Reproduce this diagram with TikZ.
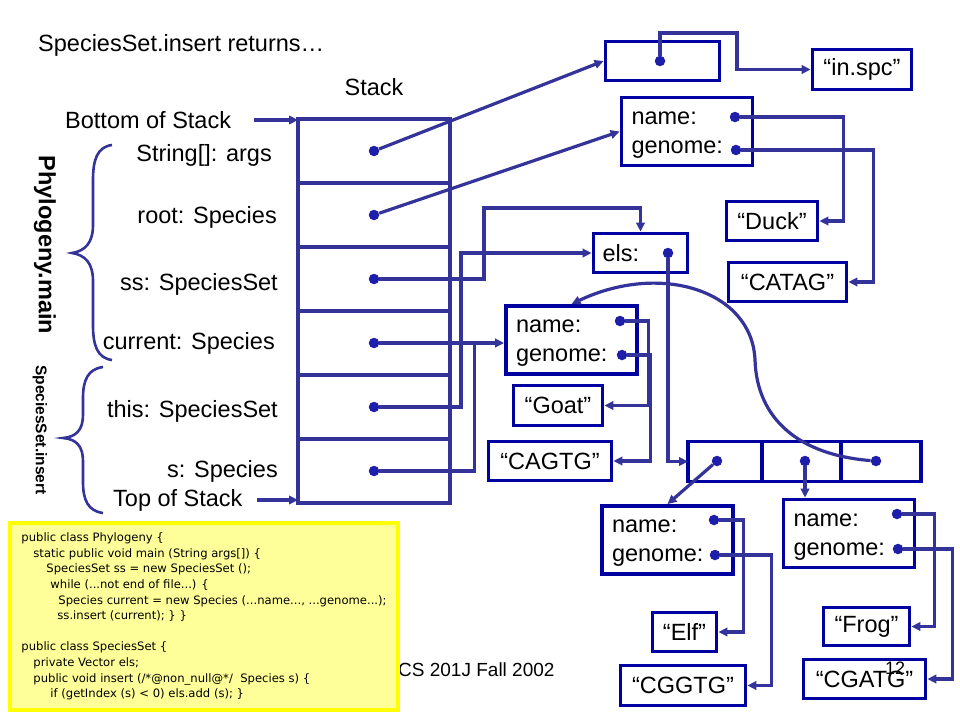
\documentclass[tikz,border=0pt]{standalone}
\usepackage{fontspec}
\setmainfont{Liberation Sans}
\newfontfamily\codefont{DejaVu Sans}
\usepackage{xcolor}
\usepackage{tikz}
\usetikzlibrary{arrows.meta, positioning}

\definecolor{boxblue}{RGB}{0,0,160}
\definecolor{wireblue}{RGB}{51,51,153}
\definecolor{dotblue}{RGB}{30,30,170}
\definecolor{codefill}{RGB}{255,255,153}
\definecolor{codeedge}{RGB}{255,255,0}

\begin{document}
\begin{tikzpicture}[
        x=1pt, y=-1pt,
        every node/.style={font=\fontsize{23.5}{29}\selectfont},
        obj/.style={draw=boxblue, line width=3.8pt, rectangle, inner sep=0pt},
        spbox/.style={obj, minimum width=131pt, minimum height=68pt, text width=111pt, align=left, inner xsep=10pt},
        cell/.style={draw=wireblue, line width=3.4pt, minimum width=152pt, minimum height=64pt, outer sep=0pt, inner sep=0pt},
        vcell/.style={obj, minimum height=40pt, outer sep=0pt},
        ptrdot/.style={circle, fill=dotblue, minimum size=10.5pt, inner sep=0pt},
        wire/.style={draw=wireblue, line width=3.2pt},
        ptr/.style={wire, -{Triangle[length=9pt, width=8.5pt]}},
        lbl/.style={inner sep=0pt},
        codebox/.style={draw=codeedge, fill=codefill, line width=4pt, minimum width=388pt, minimum height=187pt, align=left, font=\codefont\fontsize{11.6}{15.6}\selectfont}
    ]
    \useasboundingbox (0,0) rectangle (960,720);

    % Title and stack heading
    \node[lbl, anchor=west] (title) at (38,45) {SpeciesSet.insert returns…};
    \node[lbl] (stackhd) at (374,87) {Stack};

    % Stack frames
    \node[cell] (c1) at (374,151) {};
    \node[cell, below=0pt of c1] (c2) {};
    \node[cell, below=0pt of c2] (c3) {};
    \node[cell, below=0pt of c3] (c4) {};
    \node[cell, below=0pt of c4] (c5) {};
    \node[cell, below=0pt of c5] (c6) {};
    \node[ptrdot] (s1) at (c1) {};
    \node[ptrdot] (s2) at (c2) {};
    \node[ptrdot] (s3) at (c3) {};
    \node[ptrdot] (s4) at (c4) {};
    \node[ptrdot] (s5) at (c5) {};
    \node[ptrdot] (s6) at (c6) {};

    % Variable names
    \node[lbl, left=26pt of c1, yshift=-4pt] (args) {String[]: args};
    \node[lbl, left=21pt of c2, yshift=-2pt] (root) {root: Species};
    \node[lbl, left=20pt of c3, yshift=-5pt] (ss) {ss: SpeciesSet};
    \node[lbl, left=23pt of c4] (current) {current: Species};
    \node[lbl, left=20pt of c5, yshift=-4pt] (this) {this: SpeciesSet};
    \node[lbl, left=20pt of c6] (sarg) {s: Species};

    \node[lbl, anchor=west] (bos) at (65,120) {Bottom of Stack};
    \node[lbl, anchor=west] (tos) at (113,500) {Top of Stack};
    \draw[ptr] ([xshift=23pt]bos.east) -- (bos.east -| c1.west);
    \draw[ptr] ([xshift=14pt]tos.east) -- (tos.east -| c6.west);

    % Frame braces
    \draw[wire, line width=2.6pt] (112,145) .. controls (97,147) and (93,160) .. (93,180) -- (93,225)
        .. controls (93,243) and (85,251) .. (72,253) .. controls (85,255) and (93,263) .. (93,281)
        -- (93,325) .. controls (93,345) and (97,358) .. (112,360);
    \draw[wire, line width=2.6pt] (103,367) .. controls (88,369) and (83,380) .. (83,398) -- (83,415)
        .. controls (83,430) and (76,437) .. (63,438) .. controls (76,439) and (83,446) .. (83,461)
        -- (83,482) .. controls (83,500) and (88,511) .. (103,513);
    \node[lbl, rotate=-90, font=\bfseries\fontsize{23.5}{28}\selectfont] (mainlbl) at (45,245) {Phylogeny.main};
    \node[lbl, rotate=-90, font=\bfseries\fontsize{15.5}{18}\selectfont] (insertlbl) at (40,430) {SpeciesSet.insert};

    % Heap objects
    \node[obj, minimum width=114pt, minimum height=39pt] (arr) at (662.5,61) {};
    \node[ptrdot] (arrd) at (660,61) {};
    \node[obj, minimum width=99pt, minimum height=40pt] (inspc) at (862,69.5) {“in.spc”};

    \node[spbox] (rootsp) at (687,131.5) {\rule{0pt}{19pt}name:\\genome:};
    \node[ptrdot] (rootn) at (735,117) {};
    \node[ptrdot] (rootg) at (736,150) {};
    \node[obj, minimum width=91pt, minimum height=39pt] (duck) at (772,221) {“Duck”};
    \node[obj, minimum width=118pt, minimum height=39pt] (catag) at (787.5,282) {“CATAG”};

    \node[obj, minimum width=94pt, minimum height=39pt, text width=76pt, align=left, inner xsep=9pt] (els) at (640.5,253) {els:};
    \node[ptrdot] (elsd) at (668,253) {};

    \node[spbox] (goatsp) at (571.5,340) {\rule{0pt}{19pt}name:\\genome:};
    \node[ptrdot] (goatn) at (620,321) {};
    \node[ptrdot] (goatg) at (622,355) {};
    \node[obj, minimum width=89pt, minimum height=40pt] (goat) at (558,405.5) {“Goat”};
    \node[obj, minimum width=123pt, minimum height=39pt] (cagtg) at (550,461) {“CAGTG”};

    % Vector of species
    \node[vcell, minimum width=74pt] (v1) at (725,461.5) {};
    \node[vcell, minimum width=79pt, right=0pt of v1] (v2) {};
    \node[vcell, minimum width=80pt, right=0pt of v2] (v3) {};
    \node[ptrdot] (v1d) at (717,461) {};
    \node[ptrdot] (v2d) at (805,461) {};
    \node[ptrdot] (v3d) at (876,461) {};

    \node[spbox] (elfsp) at (667.5,540) {\rule{0pt}{19pt}name:\\genome:};
    \node[ptrdot] (elfn) at (714,520) {};
    \node[ptrdot] (elfg) at (715,555) {};
    \node[obj, minimum width=64pt, minimum height=39pt] (elf) at (684.5,632) {“Elf”};
    \node[obj, minimum width=125pt, minimum height=40pt] (cggtg) at (683,685.5) {“CGGTG”};

    \node[spbox] (frogsp) at (849,533.5) {\rule{0pt}{19pt}name:\\genome:};
    \node[ptrdot] (frogn) at (897,514) {};
    \node[ptrdot] (frogg) at (898,549) {};
    \node[obj, minimum width=86pt, minimum height=38pt] (frog) at (866.5,626.5) {“Frog”};
    \node[obj, minimum width=122pt, minimum height=39pt] (cgatg) at (864.5,679) {“CGATG”};

    % Pointers from the stack
    \draw[ptr] (s1) -- (arr.west);
    \draw[ptr] (s2) -- (rootsp.west);
    \draw[ptr] (s3) -| (484,208) -| (els.north);
    \draw[ptr] (s5) -| (461,253) -- (els.west);
    \draw[ptr] (s4) -- (s4 -| goatsp.west);
    \draw[wire] (s6) -| ([xshift=-30pt]s4 -| goatsp.west);

    % Pointers between objects
    \draw[ptr] (arrd) |- (737,33) |- (inspc.west);
    \draw[ptr] (rootn) -| ([xshift=24pt]duck.east) -- (duck.east);
    \draw[ptr] (rootg) -| ([xshift=25pt]catag.east) -- (catag.east);
    \draw[ptr] (elsd) |- (v1.west);
    \draw[ptr] (goatn) -| ([xshift=44pt]goat.east) -- (goat.east);
    \draw[ptr] (goatg) -| ([xshift=37pt]cagtg.east) -- (cagtg.east);
    \draw[ptr] (v1d) -- (elfsp.north);
    \draw[ptr] (v2d) -- (v2d |- frogsp.north);
    \draw[ptr] (v3d) .. controls (800,455) and (757,420) .. (755,360)
        .. controls (752,290) and (660,262) .. (goatsp.north);
    \draw[ptr] (elfn) -| ([xshift=25pt]elf.east) -- (elf.east);
    \draw[ptr] (elfg) -| ([xshift=24pt]cggtg.east) -- (cggtg.east);
    \draw[ptr] (frogn) -| ([xshift=23pt]frog.east) -- (frog.east);
    \draw[ptr] (frogg) -| ([xshift=25pt]cgatg.east) -- (cgatg.east);

    % Footer, slide number and code
    \node[lbl, anchor=west, font=\fontsize{19}{22}\selectfont] (footer) at (398,670) {CS 201J Fall 2002};
    \node[lbl, font=\fontsize{18}{21}\selectfont] (pagenum) at (895,668) {12};
    \node[codebox] (code) at (204,616.5) {public class Phylogeny \{\\
        \hspace*{12pt}static public void main (String args[]) \{\\
        \hspace*{25pt}SpeciesSet ss = new SpeciesSet ();\\
        \hspace*{29pt}while (...not end of file...) \{\\
        \hspace*{37pt}Species current = new Species (...name..., ...genome...);\\
        \hspace*{36pt}ss.insert (current); \} \}\\
        \mbox{}\\
        public class SpeciesSet \{\\
        \hspace*{12pt}private Vector els;\\
        \hspace*{12pt}public void insert (/*@non\_null@*/ \ Species s) \{\\
        \hspace*{29pt}if (getIndex (s) < 0) els.add (s); \}};

\end{tikzpicture}
\end{document}
